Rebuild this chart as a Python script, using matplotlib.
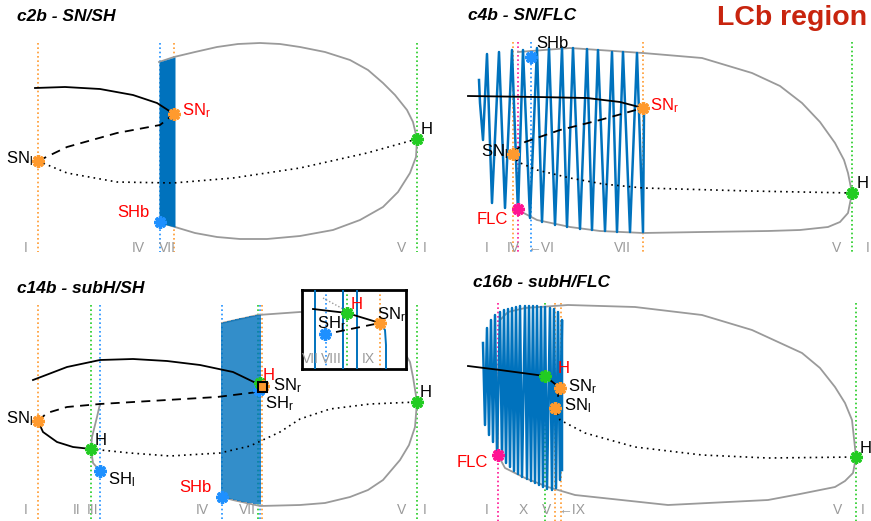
import matplotlib
matplotlib.use("Agg")
import matplotlib.pyplot as plt
from matplotlib.patches import Rectangle

plt.rcParams['font.family'] = ['Liberation Sans', 'DejaVu Sans']
plt.rcParams['mathtext.fontset'] = 'custom'
plt.rcParams['mathtext.rm'] = 'Liberation Sans'
plt.rcParams['mathtext.it'] = 'Liberation Sans:italic'
plt.rcParams['mathtext.default'] = 'regular'

BLUE = '#0072BD'
ORANGE = '#FF9A2E'
GREEN = '#22CC22'
SKY = '#1E90FF'
PINK = '#FF1493'
GRAY = '#9A9A9A'
RED = '#FF0000'

# ---- c2b - SN/SH (coordinates are picture pixels) ----
c2b_solid_x = [35, 65, 100, 133, 157, 174]
c2b_solid_y = [88, 87, 89, 95, 103, 114]
c2b_dash_x = [38, 67, 117, 160, 174]
c2b_dash_y = [161, 147, 133, 125, 114]
c2b_dot_x = [38, 67, 117, 173, 233, 300, 367, 417]
c2b_dot_y = [161, 173, 182, 183, 178, 168, 153, 139]
c2b_lc_x = [159, 174, 195, 217, 238, 260, 280, 300, 325, 350, 368, 383, 395, 407, 413, 417,
            416, 410, 398, 383, 360, 333, 300, 267, 240, 217, 195, 175, 159]
c2b_lc_y = [62, 57, 52, 47, 44, 43, 44, 47, 52, 60, 70, 83, 95, 110, 122, 139,
            157, 173, 192, 207, 220, 230, 236, 239, 239, 237, 233, 227, 222]
c2b_block_x = [159, 175]
c2b_block_top = [62, 57]
c2b_block_bot = [223, 227]
c2b_vx = [38, 160, 174, 417]
c2b_vc = [ORANGE, SKY, ORANGE, GREEN]
c2b_roman = ['I', 'IV', 'VII', 'V', 'I']
c2b_roman_x = [26, 138, 167, 402, 425]
c2b_pts = [('SNl', 38, 161, ORANGE), ('SNr', 174, 114, ORANGE),
           ('H', 417, 139, GREEN), ('SHb', 160, 222, SKY)]

# ---- c4b - SN/FLC ----
c4b_solid_x = [468, 537, 587, 620, 643]
c4b_solid_y = [96, 97, 98, 102, 108]
c4b_dash_x = [513, 525, 560, 600, 643]
c4b_dash_y = [153, 142, 130, 120, 108]
c4b_dot_x = [513, 518, 537, 570, 603, 643, 750, 852]
c4b_dot_y = [155, 162, 170, 178, 184, 188, 191, 193]
c4b_lc_x = [518, 570, 643, 702, 752, 780, 802, 820, 835, 844, 848, 852,
            848, 840, 828, 800, 768, 702, 643, 600, 570, 537, 518]
c4b_lc_y = [52, 48, 53, 58, 73, 86, 103, 122, 143, 160, 173, 193,
            213, 222, 227, 230, 231, 232, 233, 231, 227, 220, 210]
c4b_osc_start_x = [479, 480, 483]
c4b_osc_start_y = [80, 103, 140]
c4b_peak_x = [487, 499, 512, 523, 537, 549, 562, 573, 587, 598, 612, 623, 637]
c4b_peak_y = [54, 52, 50, 50, 48, 48, 48, 48, 49, 50, 52, 52, 53]
c4b_trough_x = [492, 505, 518, 530, 542, 555, 567, 580, 592, 605, 617, 630, 643]
c4b_trough_y = [203, 208, 213, 218, 222, 225, 227, 229, 230, 231, 232, 232, 232]
c4b_osc_end = (644, 112)
c4b_vx = [513, 518, 531, 643, 852]
c4b_vc = [ORANGE, PINK, SKY, ORANGE, GREEN]
c4b_roman = ['I', 'IV', '←VI', 'VII', 'V', 'I']
c4b_roman_x = [487, 513, 541, 622, 837, 868]
c4b_pts = [('SHb', 531, 57, SKY), ('SNr', 643, 108, ORANGE), ('SNl', 513, 154, ORANGE),
           ('FLC', 518, 209, PINK), ('H', 852, 193, GREEN)]

# ---- c14b - subH/SH ----
c14b_solid_x = [33, 67, 100, 133, 167, 200, 233, 260]
c14b_solid_y = [380, 367, 360, 359, 361, 365, 372, 385]
c14b_solid2_x = [38, 43, 57, 73, 91]
c14b_solid2_y = [421, 432, 442, 447, 449]
c14b_dash_x = [38, 47, 67, 100, 167, 217, 258]
c14b_dash_y = [421, 413, 407, 404, 400, 397, 392]
c14b_dot_x = [91, 130, 170, 220, 250, 280, 300, 330, 370, 417]
c14b_dot_y = [449, 453, 456, 453, 446, 432, 419, 409, 404, 402]
c14b_small_x = [100, 97, 92, 91, 93, 100]
c14b_small_y = [404, 417, 437, 449, 463, 471]
c14b_lc_x = [222, 258, 300, 340, 380, 400, 410, 413, 417, 415, 409, 400, 383, 368, 350, 325, 300, 260, 233, 222]
c14b_lc_y = [323, 315, 312, 313, 325, 345, 362, 377, 402, 427, 445, 460, 480, 490, 497, 503, 505, 506, 500, 497]
c14b_stroke_x = [222, 224, 226, 228, 230, 232, 234, 236, 238, 240,
                 242, 244, 246, 248, 250, 252, 254, 256, 258, 260]
c14b_stroke_top = [323, 322, 322, 321, 321, 320, 320, 319, 319, 318,
                   318, 318, 317, 317, 316, 316, 316, 315, 315, 315]
c14b_stroke_bot = [497, 497, 498, 498, 499, 499, 500, 500, 501, 501,
                   502, 502, 502, 503, 503, 503, 504, 504, 504, 504]
c14b_vx = [38, 91, 100, 222, 258, 260, 262, 417]
c14b_vc = [ORANGE, GREEN, SKY, SKY, GREEN, SKY, ORANGE, GREEN]
c14b_roman = ['I', 'II', 'III', 'IV', 'VII', 'V', 'I']
c14b_roman_x = [26, 77, 93, 202, 247, 402, 425]
c14b_pts = [('SNl', 38, 421, ORANGE), ('H', 91, 449, GREEN), ('SHl', 100, 471, SKY),
            ('SHb', 222, 497, SKY), ('SHr', 259, 390, SKY), ('Hr', 260, 383, GREEN),
            ('SNr', 263, 386, ORANGE), ('H', 417, 402, GREEN)]

# inset of c14b
ins_stroke_x = [315, 343, 357]
ins_curve_x = [380, 385, 386, 386]
ins_curve_y = [323, 330, 345, 370]
ins_solid_x = [313, 347, 380]
ins_solid_y = [309, 313, 323]
ins_gray_x = [323, 345]
ins_gray_y = [298, 310]
ins_dash_x = [336, 380]
ins_dash_y = [332, 323]
ins_vx = [326, 347, 380]
ins_vc = [SKY, GREEN, ORANGE]
ins_roman = ['VII', 'VIII', 'IX']
ins_roman_x = [310, 331, 368]
ins_pts = [('SHr', 325, 334, SKY), ('H', 347, 313, GREEN), ('SNr', 380, 323, ORANGE)]

# ---- c16b - subH/FLC ----
c16b_solid_x = [468, 500, 545, 560]
c16b_solid_y = [366, 370, 376, 388]
c16b_dash_x = [560, 555]
c16b_dash_y = [388, 408]
c16b_dot_x = [555, 560, 585, 635, 702, 768, 856]
c16b_dot_y = [408, 420, 433, 447, 455, 458, 457]
c16b_lc_x = [498, 498, 500, 508, 525, 568, 635, 702, 752, 802, 820, 835, 845, 852, 856,
             853, 845, 835, 800, 768, 668, 575, 548, 525, 505, 498]
c16b_lc_y = [455, 380, 320, 312, 308, 305, 307, 315, 330, 353, 368, 387, 403, 420, 457,
             473, 481, 487, 494, 500, 505, 495, 487, 478, 468, 455]
c16b_peak_x = [483, 487, 491, 495, 500, 504, 508, 512, 516, 520,
               525, 529, 533, 537, 541, 545, 550, 554, 558, 562]
c16b_peak_y = [343, 328, 320, 315, 312, 310, 309, 308, 307, 306,
               306, 306, 306, 306, 307, 307, 308, 309, 312, 320]
c16b_trough_x = [485, 489, 493, 497, 502, 506, 510, 514, 518, 522,
                 527, 531, 535, 539, 543, 547, 552, 556, 560]
c16b_trough_y = [425, 435, 442, 452, 458, 463, 467, 471, 474, 477,
                 479, 481, 483, 485, 487, 489, 490, 488, 480]
c16b_osc_end = (562, 470)
c16b_vx = [498, 545, 555, 561, 856]
c16b_vc = [PINK, GREEN, ORANGE, ORANGE, GREEN]
c16b_roman = ['I', 'X', 'V', '←IX', 'V', 'I']
c16b_roman_x = [487, 523, 547, 572, 838, 863]
c16b_pts = [('H', 545, 376, GREEN), ('SNr', 560, 388, ORANGE), ('SNl', 555, 408, ORANGE),
            ('FLC', 498, 455, PINK), ('H', 856, 457, GREEN)]

W, H = 871, 521
STAR = (8, 2, 0)


def make_ax(fig, x0, y0, x1, y1):
    ax = fig.add_axes([x0 / W, 1 - y1 / H, (x1 - x0) / W, (y1 - y0) / H])
    ax.set_xlim(x0, x1)
    ax.set_ylim(y1, y0)
    ax.axis('off')
    return ax


def vlines(ax, xs, colors, y0, y1):
    for x, c in zip(xs, colors):
        ax.plot([x, x], [y0, y1], color=c, lw=1.2, ls=(0, (1, 1.6)), zorder=1)


def roman(ax, labels, xs, y, size=10):
    for t, x in zip(labels, xs):
        ax.text(x, y, t, color=GRAY, fontsize=size, ha='center', va='baseline', zorder=6)


def stars(ax, pts):
    for _, x, y, c in pts:
        ax.plot(x, y, marker=STAR, ms=9, mew=2.4, color=c, zorder=8, clip_on=False)


def label(ax, x, y, t, color='black', ha='left', size=12):
    ax.text(x, y, t, color=color, fontsize=size, ha=ha, va='baseline', zorder=9)


def title(ax, x, y, t):
    ax.text(x, y, t, fontsize=12.5, fontweight='bold', fontstyle='italic', va='baseline')


def zigzag(start_x, start_y, px, py, tx, ty, end):
    xs, ys = list(start_x), list(start_y)
    for i in range(len(px)):
        xs.append(px[i]); ys.append(py[i])
        if i < len(tx):
            xs.append(tx[i]); ys.append(ty[i])
    if end is not None:
        xs.append(end[0]); ys.append(end[1])
    return xs, ys


def branches(ax, solid, dash, dot, lc):
    ax.plot(*lc, color=GRAY, lw=1.3, zorder=2)
    ax.plot(*solid, color='black', lw=1.3, zorder=4)
    ax.plot(*dash, color='black', lw=1.3, ls=(0, (5, 3.5)), zorder=4)
    ax.plot(*dot, color='black', lw=1.2, ls=(0, (1, 2.5)), zorder=4)


fig = plt.figure(figsize=(W / 100, H / 100), dpi=100)

# c2b
ax = make_ax(fig, 0, 0, 435, 260)
vlines(ax, c2b_vx, c2b_vc, 43, 252)
branches(ax, (c2b_solid_x, c2b_solid_y), (c2b_dash_x, c2b_dash_y),
         (c2b_dot_x, c2b_dot_y), (c2b_lc_x, c2b_lc_y))
ax.fill_between(c2b_block_x, c2b_block_bot, c2b_block_top, color=BLUE, lw=0, zorder=3)
stars(ax, c2b_pts)
roman(ax, c2b_roman, c2b_roman_x, 252)
title(ax, 17, 21, 'c2b - SN/SH')
label(ax, 33, 163, 'SN$_l$', ha='right')
label(ax, 182, 115, 'SN$_r$', RED)
label(ax, 421, 134, 'H')
label(ax, 150, 217, 'SHb', RED, ha='right')

# c4b
ax = make_ax(fig, 435, 0, 871, 260)
vlines(ax, c4b_vx, c4b_vc, 42, 252)
branches(ax, (c4b_solid_x, c4b_solid_y), (c4b_dash_x, c4b_dash_y),
         (c4b_dot_x, c4b_dot_y), (c4b_lc_x, c4b_lc_y))
ox, oy = zigzag(c4b_osc_start_x, c4b_osc_start_y, c4b_peak_x, c4b_peak_y,
                c4b_trough_x, c4b_trough_y, c4b_osc_end)
ax.plot(ox, oy, color=BLUE, lw=1.8, zorder=3)
stars(ax, c4b_pts)
roman(ax, c4b_roman, c4b_roman_x, 252)
title(ax, 468, 20, 'c4b - SN/FLC')
ax.text(717, 25, 'LCb region', color='#C8240E', fontsize=20.5, fontweight='bold', va='baseline')
label(ax, 536, 48, 'SHb')
label(ax, 650, 110, 'SN$_r$', RED)
label(ax, 508, 156, 'SN$_l$', ha='right')
label(ax, 508, 224, 'FLC', RED, ha='right')
label(ax, 857, 188, 'H')

# c14b
ax = make_ax(fig, 0, 260, 435, 521)
vlines(ax, c14b_vx, c14b_vc, 305, 521)
branches(ax, (c14b_solid_x, c14b_solid_y), (c14b_dash_x, c14b_dash_y),
         (c14b_dot_x, c14b_dot_y), (c14b_lc_x, c14b_lc_y))
ax.plot(c14b_solid2_x, c14b_solid2_y, color='black', lw=1.3, zorder=4)
ax.plot(c14b_small_x, c14b_small_y, color=GRAY, lw=1.3, zorder=2)
ax.vlines(c14b_stroke_x, c14b_stroke_top, c14b_stroke_bot, color=BLUE, lw=1.15, zorder=3)
stars(ax, c14b_pts)
ax.add_patch(Rectangle((258, 382), 9, 10, fill=False, ec='black', lw=1.5, zorder=10))
roman(ax, c14b_roman, c14b_roman_x, 514)
title(ax, 17, 293, 'c14b - subH/SH')
label(ax, 33, 423, 'SN$_l$', ha='right')
label(ax, 95, 445, 'H')
label(ax, 108, 484, 'SH$_l$')
label(ax, 212, 492, 'SHb', RED, ha='right')
label(ax, 263, 380, 'H', RED)
label(ax, 273, 390, 'SN$_r$')
label(ax, 265, 408, 'SH$_r$')
label(ax, 420, 397, 'H')

# inset of c14b
ix = make_ax(fig, 302, 290, 406, 369)
ix.axis('on')
ix.set_xticks([])
ix.set_yticks([])
for s in ix.spines.values():
    s.set_linewidth(2)
ix.set_facecolor('white')
vlines(ix, ins_vx, ins_vc, 290, 369)
for x in ins_stroke_x:
    ix.plot([x, x], [290, 369], color=BLUE, lw=1.4, zorder=3)
ix.plot(ins_curve_x, ins_curve_y, color=BLUE, lw=1.4, zorder=3)
ix.plot(ins_gray_x, ins_gray_y, color=GRAY, lw=1, ls=(0, (1, 1.5)), zorder=2)
ix.plot(ins_solid_x, ins_solid_y, color='black', lw=1.3, zorder=4)
ix.plot(ins_dash_x, ins_dash_y, color='black', lw=1.3, ls=(0, (5, 3.5)), zorder=4)
stars(ix, ins_pts)
roman(ix, ins_roman, ins_roman_x, 363)
label(ix, 351, 309, 'H', RED)
label(ix, 377, 319, 'SN$_r$')
label(ix, 317, 328, 'SH$_r$')

# c16b
ax = make_ax(fig, 435, 260, 871, 521)
vlines(ax, c16b_vx, c16b_vc, 303, 521)
branches(ax, (c16b_solid_x, c16b_solid_y), (c16b_dash_x, c16b_dash_y),
         (c16b_dot_x, c16b_dot_y), (c16b_lc_x, c16b_lc_y))
ox, oy = zigzag([], [], c16b_peak_x, c16b_peak_y, c16b_trough_x, c16b_trough_y, c16b_osc_end)
ax.plot(ox, oy, color=BLUE, lw=1.8, zorder=3)
stars(ax, c16b_pts)
roman(ax, c16b_roman, c16b_roman_x, 514)
title(ax, 473, 287, 'c16b - subH/FLC')
label(ax, 558, 373, 'H', RED)
label(ax, 568, 391, 'SN$_r$')
label(ax, 564, 410, 'SN$_l$')
label(ax, 488, 467, 'FLC', RED, ha='right')
label(ax, 860, 453, 'H')

fig.savefig('out.png', dpi=100)
